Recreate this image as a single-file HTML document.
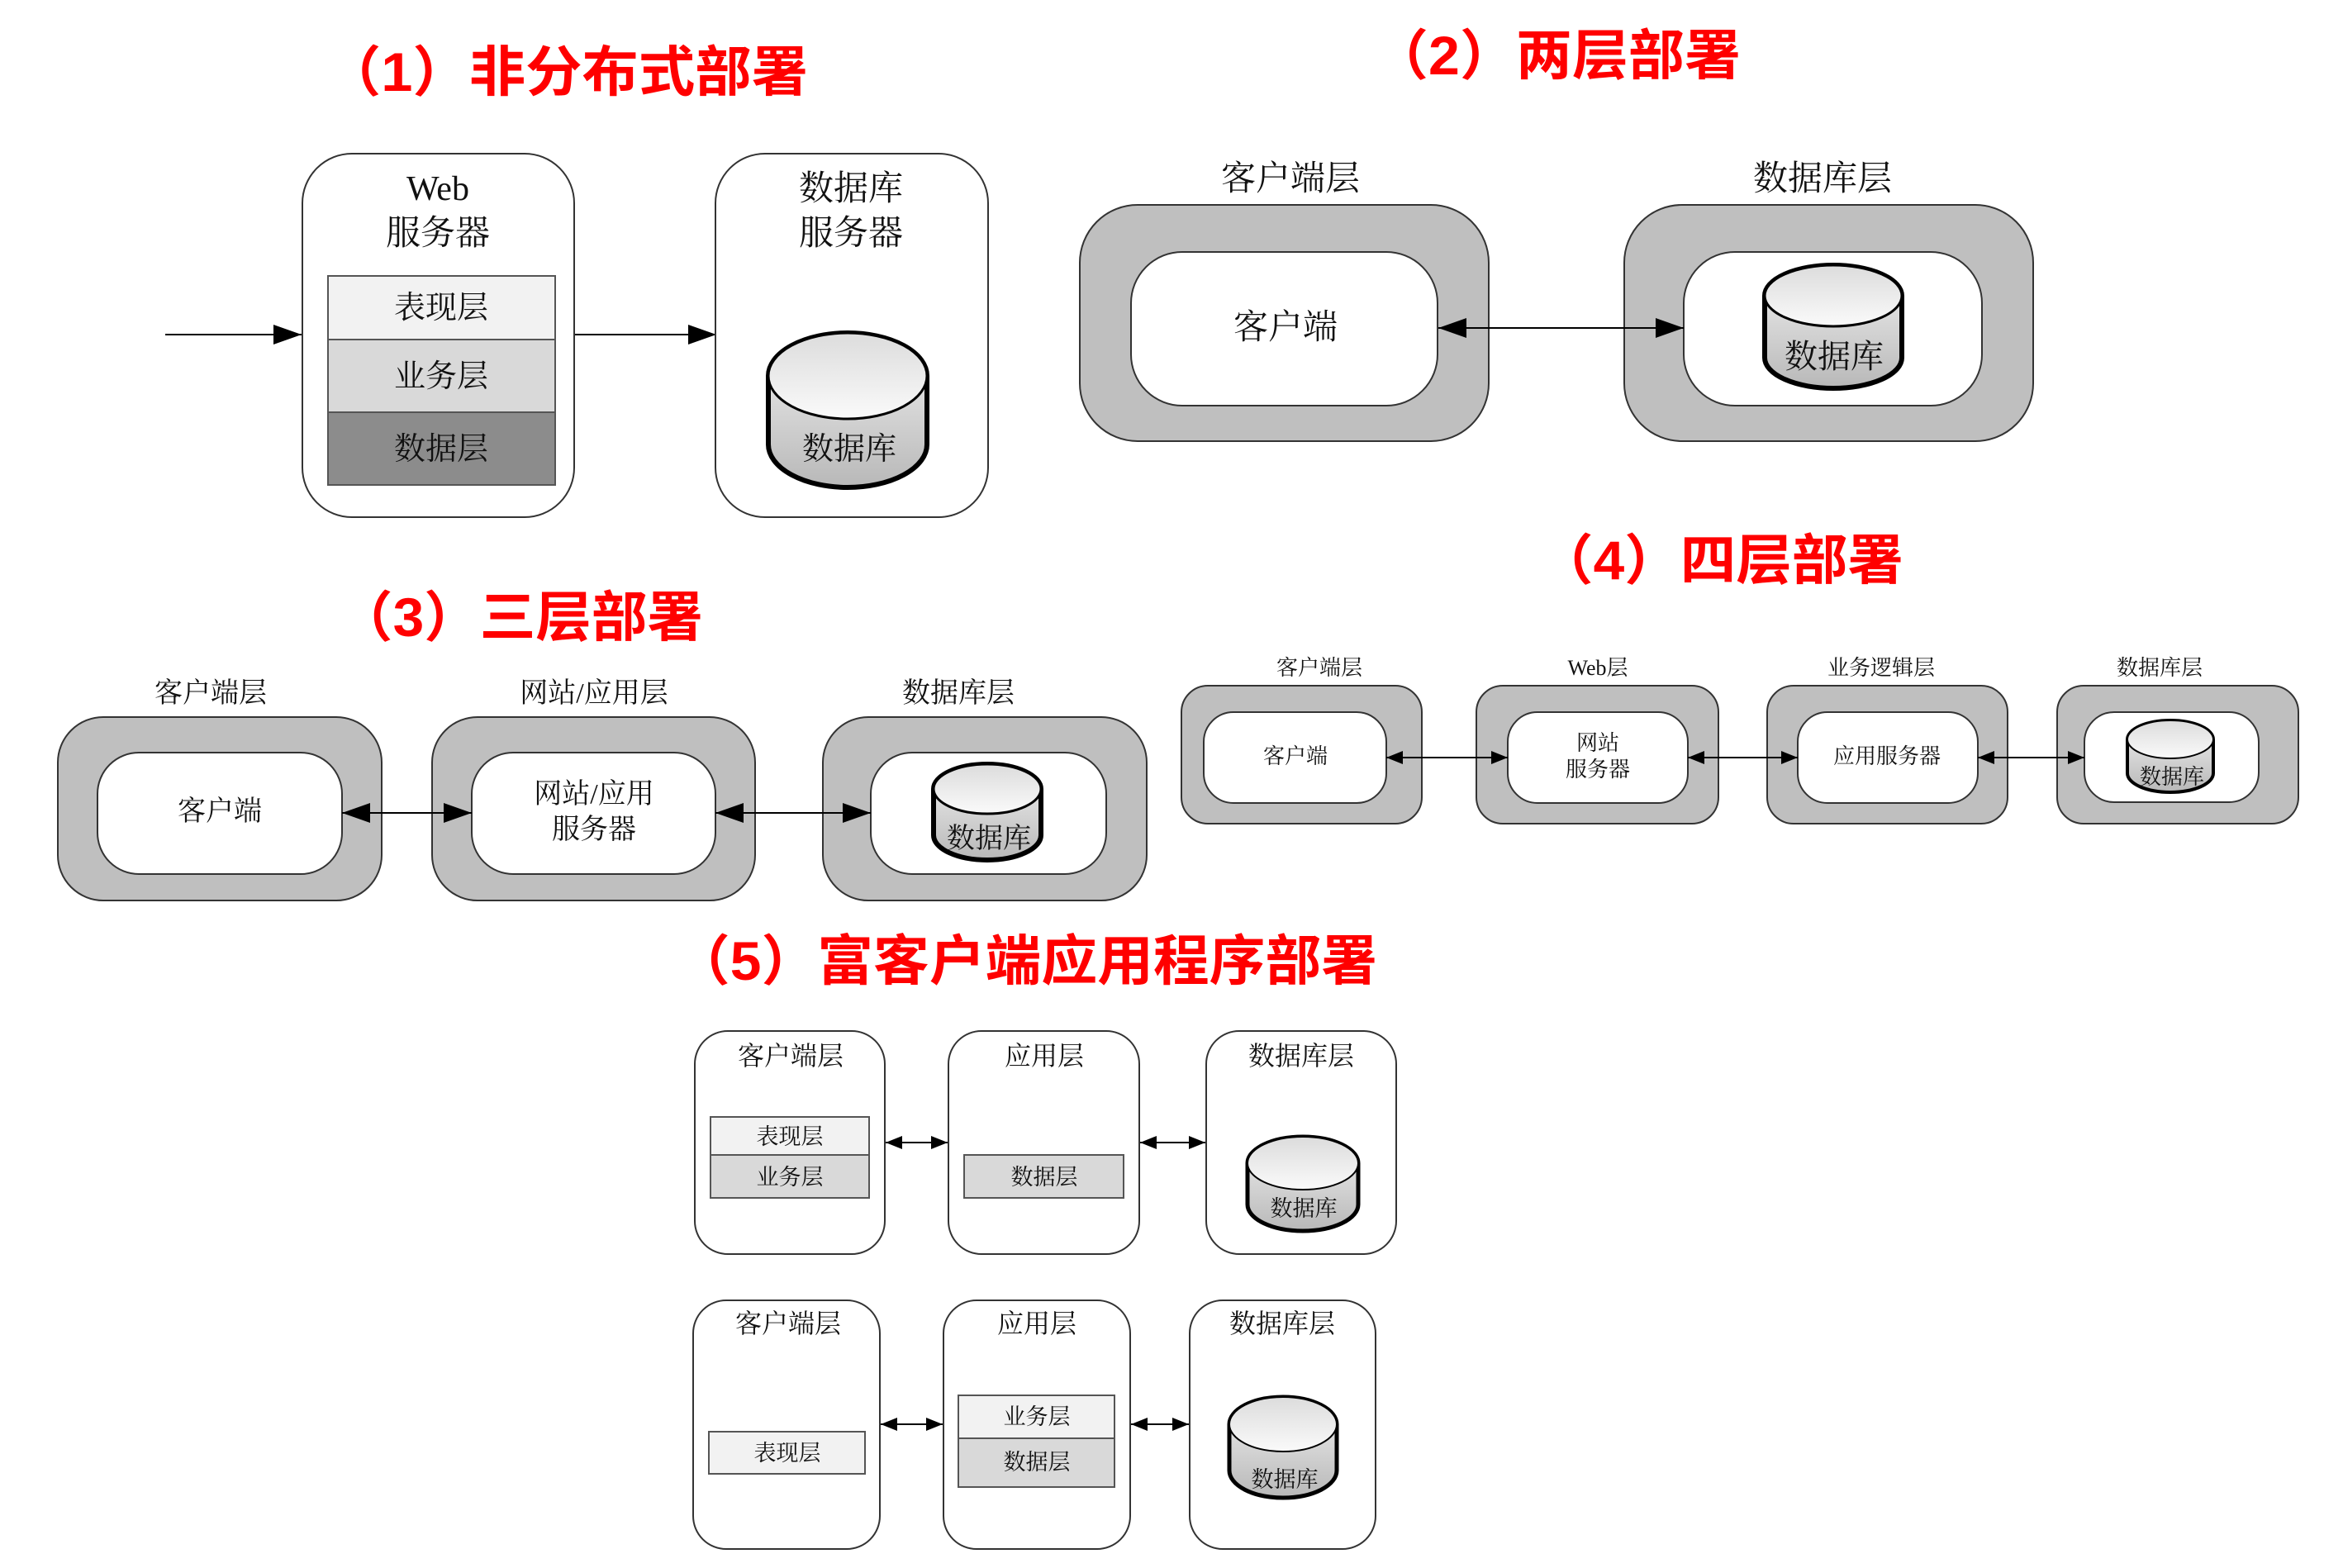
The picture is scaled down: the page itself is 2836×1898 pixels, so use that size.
<!DOCTYPE html>
<html><head><meta charset="utf-8"><style>
html,body{margin:0;padding:0;background:#fff;}
svg{display:block}
.t{font-family:"Liberation Sans","Noto Sans CJK SC",sans-serif;font-weight:bold;fill:#f00;}
.s{font-family:"Liberation Serif","Noto Serif CJK SC",serif;fill:#111;text-anchor:middle;}
</style></head><body>
<svg width="2836" height="1898" viewBox="0 0 2836 1898" xmlns="http://www.w3.org/2000/svg">
<defs>
<linearGradient id="cb" x1="0" y1="0" x2="0" y2="1"><stop offset="0" stop-color="#f2f2f2"/><stop offset="1" stop-color="#b8b8b8"/></linearGradient>
<linearGradient id="ct" x1="0" y1="0" x2="0" y2="1"><stop offset="0" stop-color="#dcdcdc"/><stop offset="1" stop-color="#fafafa"/></linearGradient>
<marker id="ahL" viewBox="0 0 10 10" refX="10" refY="5" markerWidth="34" markerHeight="24" markerUnits="userSpaceOnUse" orient="auto-start-reverse" preserveAspectRatio="none"><path d="M0,0L10,5L0,10Z" fill="#000"/></marker>
<marker id="ahS" viewBox="0 0 10 10" refX="10" refY="5" markerWidth="20" markerHeight="16" markerUnits="userSpaceOnUse" orient="auto-start-reverse" preserveAspectRatio="none"><path d="M0,0L10,5L0,10Z" fill="#000"/></marker>
</defs>

<!-- Titles -->
<text class="t" x="393" y="110" font-size="66" textLength="585" lengthAdjust="spacingAndGlyphs">（1）非分布式部署</text>
<text class="t" x="1661" y="90" font-size="66" textLength="446" lengthAdjust="spacingAndGlyphs">（2）两层部署</text>
<text class="t" x="408" y="770" font-size="66" textLength="443" lengthAdjust="spacingAndGlyphs">（3）三层部署</text>
<text class="t" x="1861" y="701" font-size="66" textLength="443" lengthAdjust="spacingAndGlyphs">（4）四层部署</text>
<text class="t" x="816" y="1186" font-size="66" textLength="851" lengthAdjust="spacingAndGlyphs">（5）富客户端应用程序部署</text>

<!-- (1) -->
<line x1="200" y1="405" x2="365" y2="405" stroke="#000" stroke-width="2" marker-end="url(#ahL)"/>
<line x1="696" y1="405" x2="867" y2="405" stroke="#000" stroke-width="2" marker-end="url(#ahL)"/>
<rect x="366" y="186" width="329" height="440" rx="60" fill="#fff" stroke="#333" stroke-width="2"/>
<rect x="866" y="186" width="330" height="440" rx="60" fill="#fff" stroke="#333" stroke-width="2"/>
<text class="s" x="530" y="242" font-size="42">Web</text>
<text class="s" x="530" y="296" font-size="42">服务器</text>
<text class="s" x="1030" y="242" font-size="42">数据库</text>
<text class="s" x="1030" y="296" font-size="42">服务器</text>
<rect x="397" y="334" width="275" height="77" fill="#f2f2f2" stroke="#555" stroke-width="2"/>
<rect x="397" y="411" width="275" height="88" fill="#d9d9d9" stroke="#555" stroke-width="2"/>
<rect x="397" y="499" width="275" height="88" fill="#8c8c8c" stroke="#555" stroke-width="2"/>
<text class="s" x="534" y="385" font-size="38">表现层</text>
<text class="s" x="534" y="468" font-size="38">业务层</text>
<text class="s" x="534" y="556" font-size="38">数据层</text>
<path d="M930,455 A96,52 0 0 1 1122,455 V538 A96,52 0 0 1 930,538 Z" fill="url(#cb)" stroke="#000" stroke-width="6"/>
<ellipse cx="1026" cy="455" rx="96" ry="52" fill="url(#ct)" stroke="#000" stroke-width="3"/>
<text class="s" x="1028" y="556" font-size="38">数据库</text>

<!-- (2) -->
<text class="s" x="1562" y="230" font-size="42">客户端层</text>
<text class="s" x="2206" y="230" font-size="42">数据库层</text>
<rect x="1307" y="248" width="495" height="286" rx="70" fill="#bfbfbf" stroke="#333" stroke-width="2"/>
<rect x="1369" y="305" width="371" height="186" rx="62" fill="#fff" stroke="#333" stroke-width="2"/>
<rect x="1966" y="248" width="495" height="286" rx="70" fill="#bfbfbf" stroke="#333" stroke-width="2"/>
<rect x="2038" y="305" width="361" height="186" rx="62" fill="#fff" stroke="#333" stroke-width="2"/>
<text class="s" x="1556" y="410" font-size="42">客户端</text>
<line x1="1741" y1="397" x2="2038" y2="397" stroke="#000" stroke-width="2" marker-start="url(#ahL)" marker-end="url(#ahL)"/>
<path d="M2136,358 A83,37 0 0 1 2302,358 V433 A83,37 0 0 1 2136,433 Z" fill="url(#cb)" stroke="#000" stroke-width="6"/>
<ellipse cx="2219" cy="358" rx="83" ry="37" fill="url(#ct)" stroke="#000" stroke-width="3"/>
<text class="s" x="2220" y="445" font-size="40">数据库</text>

<!-- (3) -->
<text class="s" x="255" y="850" font-size="34">客户端层</text>
<text class="s" x="719" y="850" font-size="34">网站/应用层</text>
<text class="s" x="1160" y="850" font-size="34">数据库层</text>
<rect x="70" y="868" width="392" height="222" rx="55" fill="#bfbfbf" stroke="#333" stroke-width="2"/>
<rect x="118" y="911" width="296" height="147" rx="50" fill="#fff" stroke="#333" stroke-width="2"/>
<rect x="523" y="868" width="391" height="222" rx="55" fill="#bfbfbf" stroke="#333" stroke-width="2"/>
<rect x="571" y="911" width="295" height="147" rx="50" fill="#fff" stroke="#333" stroke-width="2"/>
<rect x="996" y="868" width="392" height="222" rx="55" fill="#bfbfbf" stroke="#333" stroke-width="2"/>
<rect x="1054" y="911" width="285" height="147" rx="50" fill="#fff" stroke="#333" stroke-width="2"/>
<text class="s" x="266" y="993" font-size="34">客户端</text>
<text class="s" x="719" y="972" font-size="34">网站/应用</text>
<text class="s" x="719" y="1015" font-size="34">服务器</text>
<line x1="414" y1="984" x2="571" y2="984" stroke="#000" stroke-width="2" marker-start="url(#ahL)" marker-end="url(#ahL)"/>
<line x1="866" y1="984" x2="1054" y2="984" stroke="#000" stroke-width="2" marker-start="url(#ahL)" marker-end="url(#ahL)"/>
<path d="M1130,955 A65,30 0 0 1 1260,955 V1011 A65,30 0 0 1 1130,1011 Z" fill="url(#cb)" stroke="#000" stroke-width="6"/>
<ellipse cx="1195" cy="955" rx="65" ry="30" fill="url(#ct)" stroke="#000" stroke-width="3"/>
<text class="s" x="1197" y="1026" font-size="34">数据库</text>

<!-- (4) -->
<text class="s" x="1597" y="817" font-size="26">客户端层</text>
<text class="s" x="1934" y="817" font-size="26">Web层</text>
<text class="s" x="2277" y="817" font-size="26">业务逻辑层</text>
<text class="s" x="2614" y="817" font-size="26">数据库层</text>
<rect x="1430" y="830" width="291" height="167" rx="32" fill="#bfbfbf" stroke="#333" stroke-width="2"/>
<rect x="1457" y="862" width="221" height="110" rx="36" fill="#fff" stroke="#333" stroke-width="2"/>
<rect x="1787" y="830" width="293" height="167" rx="32" fill="#bfbfbf" stroke="#333" stroke-width="2"/>
<rect x="1825" y="862" width="218" height="110" rx="36" fill="#fff" stroke="#333" stroke-width="2"/>
<rect x="2139" y="830" width="291" height="167" rx="32" fill="#bfbfbf" stroke="#333" stroke-width="2"/>
<rect x="2176" y="862" width="218" height="110" rx="36" fill="#fff" stroke="#333" stroke-width="2"/>
<rect x="2490" y="830" width="292" height="167" rx="32" fill="#bfbfbf" stroke="#333" stroke-width="2"/>
<rect x="2523" y="862" width="211" height="109" rx="36" fill="#fff" stroke="#333" stroke-width="2"/>
<text class="s" x="1568" y="924" font-size="26">客户端</text>
<text class="s" x="1934" y="908" font-size="26">网站</text>
<text class="s" x="1934" y="940" font-size="26">服务器</text>
<text class="s" x="2284" y="924" font-size="26">应用服务器</text>
<line x1="1678" y1="917" x2="1825" y2="917" stroke="#000" stroke-width="2" marker-start="url(#ahS)" marker-end="url(#ahS)"/>
<line x1="2043" y1="917" x2="2176" y2="917" stroke="#000" stroke-width="2" marker-start="url(#ahS)" marker-end="url(#ahS)"/>
<line x1="2394" y1="917" x2="2523" y2="917" stroke="#000" stroke-width="2" marker-start="url(#ahS)" marker-end="url(#ahS)"/>
<path d="M2575,895 A52,23 0 0 1 2679,895 V936 A52,23 0 0 1 2575,936 Z" fill="url(#cb)" stroke="#000" stroke-width="4"/>
<ellipse cx="2627" cy="895" rx="52" ry="23" fill="url(#ct)" stroke="#000" stroke-width="2"/>
<text class="s" x="2629" y="949" font-size="26">数据库</text>

<!-- (5) row 1 -->
<rect x="841" y="1248" width="230" height="270" rx="40" fill="#fff" stroke="#333" stroke-width="2"/>
<rect x="1148" y="1248" width="231" height="270" rx="40" fill="#fff" stroke="#333" stroke-width="2"/>
<rect x="1460" y="1248" width="230" height="270" rx="40" fill="#fff" stroke="#333" stroke-width="2"/>
<text class="s" x="957" y="1289" font-size="32">客户端层</text>
<text class="s" x="1264" y="1289" font-size="32">应用层</text>
<text class="s" x="1575" y="1289" font-size="32">数据库层</text>
<rect x="860" y="1352" width="192" height="46" fill="#f2f2f2" stroke="#555" stroke-width="2"/>
<rect x="860" y="1398" width="192" height="52" fill="#d9d9d9" stroke="#555" stroke-width="2"/>
<text class="s" x="956" y="1385" font-size="27">表现层</text>
<text class="s" x="956" y="1434" font-size="27">业务层</text>
<rect x="1167" y="1398" width="193" height="52" fill="#d9d9d9" stroke="#555" stroke-width="2"/>
<text class="s" x="1264" y="1434" font-size="27">数据层</text>
<line x1="1072" y1="1383" x2="1147" y2="1383" stroke="#000" stroke-width="2" marker-start="url(#ahS)" marker-end="url(#ahS)"/>
<line x1="1380" y1="1383" x2="1459" y2="1383" stroke="#000" stroke-width="2" marker-start="url(#ahS)" marker-end="url(#ahS)"/>
<path d="M1510,1408 A67,32 0 0 1 1644,1408 V1458 A67,32 0 0 1 1510,1458 Z" fill="url(#cb)" stroke="#000" stroke-width="5"/>
<ellipse cx="1577" cy="1408" rx="67" ry="32" fill="url(#ct)" stroke="#000" stroke-width="2"/>
<text class="s" x="1578" y="1472" font-size="27">数据库</text>

<!-- (5) row 2 -->
<rect x="839" y="1574" width="226" height="301" rx="40" fill="#fff" stroke="#333" stroke-width="2"/>
<rect x="1142" y="1574" width="226" height="301" rx="40" fill="#fff" stroke="#333" stroke-width="2"/>
<rect x="1440" y="1574" width="225" height="301" rx="40" fill="#fff" stroke="#333" stroke-width="2"/>
<text class="s" x="954" y="1613" font-size="32">客户端层</text>
<text class="s" x="1255" y="1613" font-size="32">应用层</text>
<text class="s" x="1552" y="1613" font-size="32">数据库层</text>
<rect x="858" y="1733" width="189" height="51" fill="#f2f2f2" stroke="#555" stroke-width="2"/>
<text class="s" x="953" y="1768" font-size="27">表现层</text>
<rect x="1160" y="1689" width="189" height="52" fill="#f2f2f2" stroke="#555" stroke-width="2"/>
<rect x="1160" y="1741" width="189" height="59" fill="#d9d9d9" stroke="#555" stroke-width="2"/>
<text class="s" x="1255" y="1724" font-size="27">业务层</text>
<text class="s" x="1255" y="1779" font-size="27">数据层</text>
<line x1="1066" y1="1724" x2="1141" y2="1724" stroke="#000" stroke-width="2" marker-start="url(#ahS)" marker-end="url(#ahS)"/>
<line x1="1369" y1="1724" x2="1439" y2="1724" stroke="#000" stroke-width="2" marker-start="url(#ahS)" marker-end="url(#ahS)"/>
<path d="M1488,1724 A65,33 0 0 1 1618,1724 V1780 A65,33 0 0 1 1488,1780 Z" fill="url(#cb)" stroke="#000" stroke-width="5"/>
<ellipse cx="1553" cy="1724" rx="65" ry="33" fill="url(#ct)" stroke="#000" stroke-width="2"/>
<text class="s" x="1555" y="1800" font-size="27">数据库</text>
</svg>
</body></html>
